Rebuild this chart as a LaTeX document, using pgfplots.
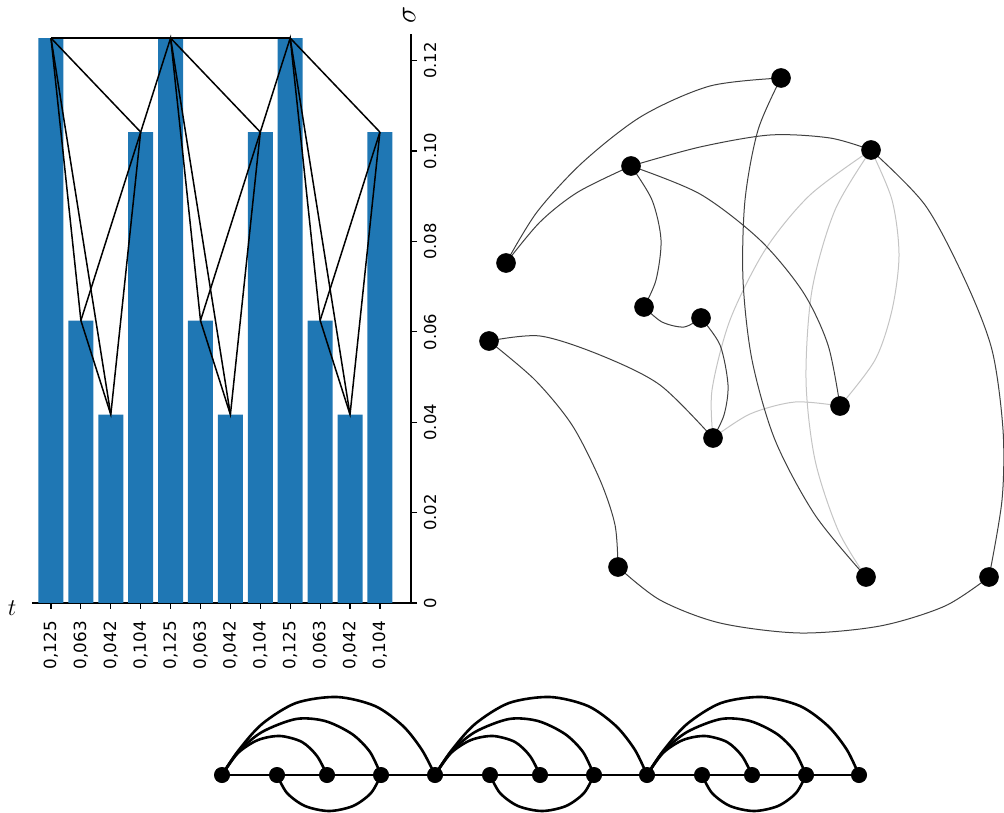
\documentclass[border=0pt]{standalone}
\usepackage{pgfplots}
\pgfplotsset{compat=1.18}
\usepackage{fontspec}
\setmainfont{DejaVu Sans}
\definecolor{barblue}{HTML}{1F77B4}
\definecolor{edgedark}{HTML}{404040}
\definecolor{edgelight}{HTML}{C4C4C4}
\begin{document}
\begin{tikzpicture}
\path[use as bounding box] (0,0) rectangle (502pt,406pt);
% ---------------- bar chart ----------------
\begin{axis}[at={(16pt,104.5pt)}, anchor=south west, scale only axis,
  width=189.5pt, height=284.5pt,
  xmin=-0.635, xmax=12.04, ymin=0, ymax=0.1259,
  axis x line=bottom, axis y line=right,
  axis line style={-, line width=0.6pt},
  tick align=outside, major tick length=3pt,
  tick style={black, line width=0.6pt},
  xtick={0,1,2,3,4,5,6,7,8,9,10,11},
  xticklabels={{0,125},{0,063},{0,042},{0,104},{0,125},{0,063},{0,042},{0,104},{0,125},{0,063},{0,042},{0,104}},
  xticklabel style={rotate=90, anchor=east, xshift=-2.5pt, font=\fontsize{8.4}{9}\selectfont},
  ytick={0,0.02,0.04,0.06,0.08,0.10,0.12},
  yticklabels={0,0.02,0.04,0.06,0.08,0.10,0.12},
  yticklabel style={rotate=90, anchor=north, font=\fontsize{8.2}{9}\selectfont},
  clip=false]
\addplot[ybar, bar width=0.836, fill=barblue, draw=none] coordinates {
 (0,0.125)(1,0.0625)(2,0.0417)(3,0.1042)(4,0.125)(5,0.0625)
 (6,0.0417)(7,0.1042)(8,0.125)(9,0.0625)(10,0.0417)(11,0.1042)};
\addplot[black, line width=0.75pt] coordinates {
 (0,0.125)(1,0.0625)(2,0.0417)(3,0.1042)(4,0.125)(5,0.0625)
 (6,0.0417)(7,0.1042)(8,0.125)(9,0.0625)(10,0.0417)(11,0.1042)};
\addplot[black, line width=0.75pt] coordinates {(0,0.125)(2,0.0417)};
\addplot[black, line width=0.75pt] coordinates {(0,0.125)(3,0.1042)};
\addplot[black, line width=0.75pt] coordinates {(0,0.125)(4,0.125)};
\addplot[black, line width=0.75pt] coordinates {(4,0.125)(6,0.0417)};
\addplot[black, line width=0.75pt] coordinates {(4,0.125)(7,0.1042)};
\addplot[black, line width=0.75pt] coordinates {(4,0.125)(8,0.125)};
\addplot[black, line width=0.75pt] coordinates {(8,0.125)(10,0.0417)};
\addplot[black, line width=0.75pt] coordinates {(8,0.125)(11,0.1042)};
\addplot[black, line width=0.75pt] coordinates {(1,0.0625)(3,0.1042)};
\addplot[black, line width=0.75pt] coordinates {(5,0.0625)(7,0.1042)};
\addplot[black, line width=0.75pt] coordinates {(9,0.0625)(11,0.1042)};
\node[anchor=center] at (axis cs:-1.3,-0.0012) {\fontsize{12}{13}\selectfont$t$};
\node[anchor=center, rotate=90] at (axis cs:11.98,0.1300) {\fontsize{15}{16}\selectfont$\sigma$};
\end{axis}
% ---------------- network drawings (pixel coordinates) ----------------
\begin{axis}[at={(0pt,0pt)}, anchor=south west, scale only axis,
  width=502pt, height=406pt, xmin=0, xmax=1004, ymin=0, ymax=812,
  y dir=reverse, hide axis, clip=false]
% light edges
\addplot[edgelight, line width=0.5pt, smooth] coordinates {(871,150)(810,195)(765,250)(730,320)(712,390)(713,438)};
\addplot[edgelight, line width=0.5pt, smooth] coordinates {(871,150)(835,210)(812,290)(806,380)(815,460)(838,530)(866,577)};
\addplot[edgelight, line width=0.5pt, smooth] coordinates {(871,150)(892,200)(899,255)(892,310)(875,360)(840,406)};
\addplot[edgelight, line width=0.5pt, smooth] coordinates {(713,438)(750,414)(795,402)(840,406)};
% dark edges
\addplot[edgedark, line width=0.5pt, smooth] coordinates {(781,78)(710,86)(642,116)(583,162)(537,212)(506,263)};
\addplot[edgedark, line width=0.5pt, smooth] coordinates {(631,166)(578,192)(540,222)(506,263)};
\addplot[edgedark, line width=0.5pt, smooth] coordinates {(631,166)(700,147)(770,135)(830,138)(871,150)};
\addplot[edgedark, line width=0.5pt, smooth] coordinates {(631,166)(652,200)(661,240)(656,280)(644,307)};
\addplot[edgedark, line width=0.5pt, smooth] coordinates {(631,166)(700,194)(760,240)(803,292)(828,345)(840,406)};
\addplot[edgedark, line width=0.5pt, smooth] coordinates {(644,307)(662,322)(684,327)(701,318)};
\addplot[edgedark, line width=0.5pt, smooth] coordinates {(701,318)(720,345)(728,385)(724,415)(713,438)};
\addplot[edgedark, line width=0.5pt, smooth] coordinates {(781,78)(758,130)(745,200)(743,280)(752,360)(775,440)(815,515)(866,577)};
\addplot[edgedark, line width=0.5pt, smooth] coordinates {(871,150)(925,205)(965,280)(992,350)(1003,430)(1002,500)(989,577)};
\addplot[edgedark, line width=0.5pt, smooth] coordinates {(489,341)(540,336)(600,355)(660,385)(713,438)};
\addplot[edgedark, line width=0.5pt, smooth] coordinates {(489,341)(535,380)(572,425)(600,480)(615,525)(618,567)};
\addplot[edgedark, line width=0.5pt, smooth] coordinates {(618,567)(660,600)(720,623)(800,633)(880,626)(945,606)(989,577)};
% nodes
\addplot[only marks, mark=*, mark size=4.7pt, black] coordinates {
 (781,78)(631,166)(871,150)(506,263)(644,307)(701,318)(489,341)
 (840,406)(713,438)(618,567)(866,577)(989,577)};
% ---------- arc diagram ----------
\addplot[black, line width=1.3pt] coordinates {(222,775)(859,775)};
% group 1
\addplot[black, line width=1.3pt, smooth] coordinates {(222,775)(238,751)(262,724)(296,703)(337,697)(375,706)(403,726)(422,750)(435,775)};
\addplot[black, line width=1.3pt, smooth] coordinates {(222,775)(238,752)(262,732)(296,719)(325,721)(352,734)(370,752)(381,775)};
\addplot[black, line width=1.3pt, smooth] coordinates {(222,775)(238,753)(258,740)(280,736)(302,742)(317,756)(327,775)};
\addplot[black, line width=1.3pt, smooth] coordinates {(277,775)(287,793)(305,806)(329,811)(353,806)(371,793)(381,775)};
% group 2
\addplot[black, line width=1.3pt, smooth] coordinates {(435,775)(451,751)(475,724)(509,703)(550,697)(588,706)(616,726)(635,750)(647,775)};
\addplot[black, line width=1.3pt, smooth] coordinates {(435,775)(451,752)(475,732)(509,719)(538,721)(565,734)(583,752)(594,775)};
\addplot[black, line width=1.3pt, smooth] coordinates {(435,775)(451,753)(471,740)(493,736)(515,742)(530,756)(540,775)};
\addplot[black, line width=1.3pt, smooth] coordinates {(490,775)(500,793)(518,806)(542,811)(566,806)(584,793)(594,775)};
% group 3
\addplot[black, line width=1.3pt, smooth] coordinates {(647,775)(663,751)(687,724)(721,703)(762,697)(800,706)(828,726)(847,750)(859,775)};
\addplot[black, line width=1.3pt, smooth] coordinates {(647,775)(663,752)(687,732)(721,719)(750,721)(777,734)(795,752)(806,775)};
\addplot[black, line width=1.3pt, smooth] coordinates {(647,775)(663,753)(683,740)(705,736)(727,742)(742,756)(752,775)};
\addplot[black, line width=1.3pt, smooth] coordinates {(702,775)(712,793)(730,806)(754,811)(778,806)(796,793)(806,775)};
\addplot[only marks, mark=*, mark size=3.8pt, black] coordinates {
 (222,775)(277,775)(327,775)(381,775)(435,775)(490,775)(540,775)
 (594,775)(647,775)(702,775)(752,775)(806,775)(859,775)};
\end{axis}
\end{tikzpicture}
\end{document}
